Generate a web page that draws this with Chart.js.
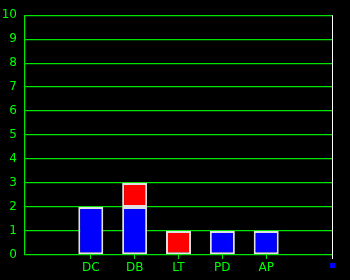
<!DOCTYPE html>
<html><head><meta charset="utf-8">
<script src="https://cdn.jsdelivr.net/npm/chart.js@4"></script>
<style>html,body{margin:0;padding:0;background:#000;}#w{width:350px;height:280px;}</style>
</head><body><div id="w"><canvas id="c"></canvas></div>
<script>
const categories = ['', 'DC', 'DB', 'LT', 'PD', 'AP', ''];
const blueValues = [null, 2, 2, null, 1, 1, null];
const redValues = [null, null, 1, 1, null, null, null];
const yTicks = [0,1,2,3,4,5,6,7,8,9,10];
const GREEN = '#00ff00';
const GRID = 'rgb(0,230,0)';

const decor = {
  id: 'decor',
  beforeDraw(chart) {
    const ctx = chart.ctx;
    ctx.save();
    ctx.fillStyle = '#000000';
    ctx.fillRect(0, 0, chart.width, chart.height);
    ctx.restore();
  },
  afterDraw(chart) {
    const a = chart.chartArea, ctx = chart.ctx;
    ctx.save();
    ctx.strokeStyle = '#ffffff';
    ctx.lineWidth = 1;
    ctx.beginPath();
    ctx.moveTo(Math.round(a.right) + 0.5, a.top);
    ctx.lineTo(Math.round(a.right) + 0.5, a.bottom + 4);
    ctx.stroke();
    ctx.fillStyle = '#0000ff';
    ctx.fillRect(Math.round(a.right) - 2, a.bottom + 8, 5, 5);
    ctx.restore();
  }
};

new Chart(document.getElementById('c'), {
  type: 'bar',
  data: {
    labels: categories,
    datasets: [
      {data: blueValues, backgroundColor: '#0000ff', borderColor: '#e0e0e0', borderWidth: 2, borderSkipped: false},
      {data: redValues, backgroundColor: '#ff0000', borderColor: '#e0e0e0', borderWidth: 2, borderSkipped: false}
    ]
  },
  options: {
    responsive: true, maintainAspectRatio: false, animation: false,
    layout: {padding: {top: 15, right: 18, left: 0, bottom: 0}},
    datasets: {bar: {categoryPercentage: 1, barPercentage: 0.57}},
    plugins: {legend: {display: false}, tooltip: {enabled: false}},
    scales: {
      x: {
        stacked: true,
        grid: {drawOnChartArea: false, offset: false, tickLength: 4,
               color: (c) => (categories[c.index] ? GRID : 'rgba(0,0,0,0)')},
        border: {display: false},
        ticks: {color: GREEN, font: {family: 'DejaVu Sans', size: 12}, padding: 2, maxRotation: 0, autoSkip: false},
        afterFit(s) { s.height = 25; }
      },
      y: {
        stacked: true, min: 0, max: 10,
        afterBuildTicks(s) { s.ticks = yTicks.map(v => ({value: v})); },
        grid: {color: GRID, lineWidth: 1.3, drawTicks: false},
        border: {color: GRID, width: 1.3},
        ticks: {color: GREEN, font: {family: 'DejaVu Sans', size: 12}, padding: 8},
        afterFit(s) { s.width = 25; }
      }
    }
  },
  plugins: [decor]
});
</script>
</body></html>
